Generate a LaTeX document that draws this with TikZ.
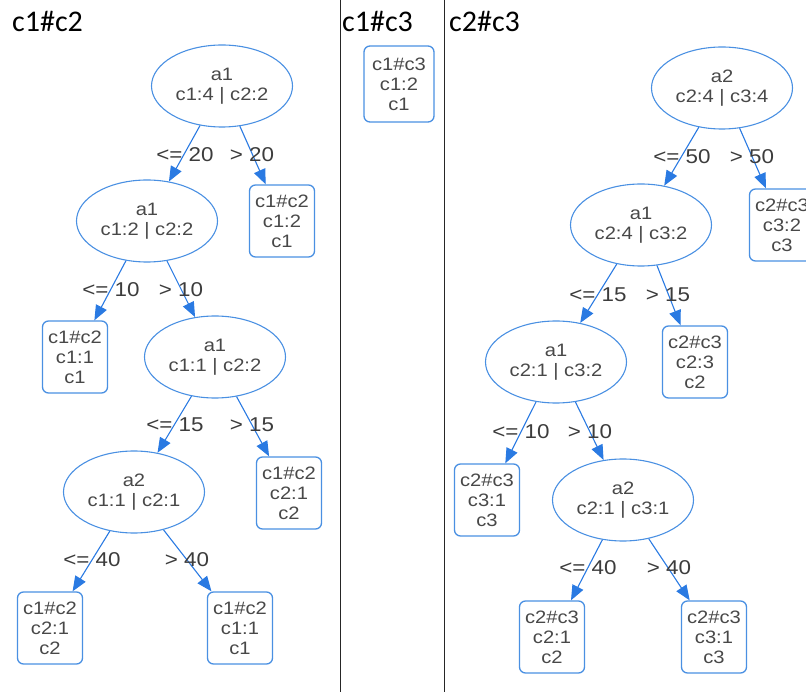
\documentclass[tikz,border=0pt]{standalone}
\usepackage{fontspec}
\setmainfont{Liberation Sans}
\newfontfamily\nodefont[FakeStretch=1.12]{Liberation Sans}
\newfontfamily\titlefont{Carlito}
\usetikzlibrary{arrows.meta,shapes.geometric}
\definecolor{nodeblue}{RGB}{74,144,226}
\definecolor{edgeblue}{RGB}{42,122,226}
\definecolor{txtgray}{RGB}{72,72,72}
\definecolor{lblgray}{RGB}{60,60,60}
\begin{document}
\begin{tikzpicture}[x=1pt,y=-1pt,
  split/.style={ellipse, draw=nodeblue, line width=1.1pt, minimum width=141pt, minimum height=82pt, inner sep=0pt, text=txtgray, font=\nodefont\fontsize{18}{20}\selectfont, align=center},
  leaf/.style={rectangle, rounded corners=6pt, draw=nodeblue, line width=1.3pt, minimum width=65pt, minimum height=72pt, inner sep=0pt, text=txtgray, font=\nodefont\fontsize{18}{20}\selectfont, align=center},
  edge/.style={draw=edgeblue, line width=1.1pt, -{Triangle[length=15pt,width=12pt]}},
  lbl/.style={text=lblgray, font=\nodefont\fontsize{20}{22}\selectfont, inner sep=0pt},
  title/.style={font=\titlefont\fontsize{30}{36}\selectfont, anchor=base west, inner sep=0pt},
  divider/.style={draw=black!85, line width=1pt}]
\useasboundingbox (0,0) rectangle (806,692);
\clip (0,0) rectangle (806,692);
% titles
\node[title] (t1) at (12,32) {c1\#c2};
\node[title] (t2) at (342,32) {c1\#c3};
\node[title] (t3) at (449,32) {c2\#c3};
% dividers
\draw[divider] (340,0) -- (340,692);
\draw[divider] (444,0) -- (444,692);
% left tree
\node[split] (L1) at (222,86) {a1\\c1:4 | c2:2};
\node[split] (L2) at (147,221) {a1\\c1:2 | c2:2};
\node[leaf] (L3) at (282,221) {c1\#c2\\c1:2\\c1};
\node[leaf] (L4) at (75,357) {c1\#c2\\c1:1\\c1};
\node[split] (L5) at (215,357) {a1\\c1:1 | c2:2};
\node[split] (L6) at (134,492) {a2\\c1:1 | c2:1};
\node[leaf] (L7) at (289,493) {c1\#c2\\c2:1\\c2};
\node[leaf] (L8) at (50,628) {c1\#c2\\c2:1\\c2};
\node[leaf] (L9) at (240,628) {c1\#c2\\c1:1\\c1};
\draw[edge] (L1) -- (L2);
\draw[edge] (L1) -- (L3);
\draw[edge] (L2) -- (L4);
\draw[edge] (L2) -- (L5);
\draw[edge] (L5) -- (L6);
\draw[edge] (L5) -- (L7);
\draw[edge] (L6) -- (L8);
\draw[edge] (L6) -- (L9);
\node[lbl] (l1) at (185,155) {<= 20};
\node[lbl] (l2) at (252,155) {> 20};
\node[lbl] (l3) at (111,290) {<= 10};
\node[lbl] (l4) at (181,290) {> 10};
\node[lbl] (l5) at (175,425) {<= 15};
\node[lbl] (l6) at (252,425) {> 15};
\node[lbl] (l7) at (92,560) {<= 40};
\node[lbl] (l8) at (187,560) {> 40};
% middle
\node[leaf, minimum width=70pt, minimum height=76pt] (M1) at (399,84) {c1\#c3\\c1:2\\c1};
% right tree
\node[split] (R1) at (722,88) {a2\\c2:4 | c3:4};
\node[split] (R2) at (641,225) {a1\\c2:4 | c3:2};
\node[leaf] (R3) at (782,225) {c2\#c3\\c3:2\\c3};
\node[split] (R4) at (556,362) {a1\\c2:1 | c3:2};
\node[leaf] (R5) at (695,362) {c2\#c3\\c2:3\\c2};
\node[leaf] (R6) at (487,500) {c2\#c3\\c3:1\\c3};
\node[split] (R7) at (623,500) {a2\\c2:1 | c3:1};
\node[leaf] (R8) at (552,637) {c2\#c3\\c2:1\\c2};
\node[leaf] (R9) at (714,637) {c2\#c3\\c3:1\\c3};
\draw[edge] (R1) -- (R2);
\draw[edge] (R1) -- (R3);
\draw[edge] (R2) -- (R4);
\draw[edge] (R2) -- (R5);
\draw[edge] (R4) -- (R6);
\draw[edge] (R4) -- (R7);
\draw[edge] (R7) -- (R8);
\draw[edge] (R7) -- (R9);
\node[lbl] (r1) at (682,157) {<= 50};
\node[lbl] (r2) at (752,157) {> 50};
\node[lbl] (r3) at (598,295) {<= 15};
\node[lbl] (r4) at (668,295) {> 15};
\node[lbl] (r5) at (521,432) {<= 10};
\node[lbl] (r6) at (590,432) {> 10};
\node[lbl] (r7) at (588,568) {<= 40};
\node[lbl] (r8) at (669,568) {> 40};
\end{tikzpicture}
\end{document}
